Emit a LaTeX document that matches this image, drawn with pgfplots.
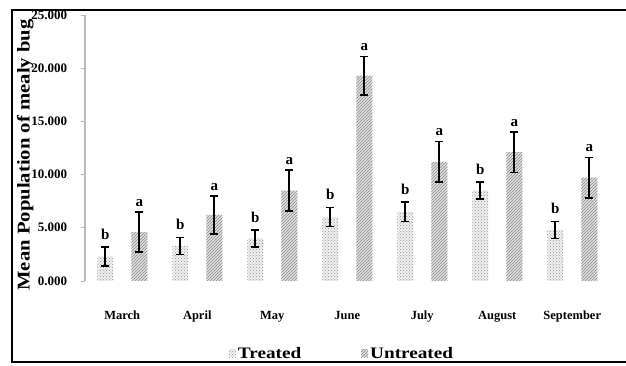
\documentclass[border=0pt]{standalone}
\usepackage{fontspec}
\setmainfont{Liberation Serif}
\usepackage{graphicx}
\usepackage{pgfplots}
\pgfplotsset{compat=1.18}
\usetikzlibrary{patterns}
\pgfplotstableread{
x treated terr untreated uerr
0 2.3 0.9 4.6 1.9
1 3.3 0.8 6.2 1.8
2 4.0 0.8 8.5 1.9
3 6.0 0.9 19.3 1.8
4 6.5 0.9 11.2 1.9
5 8.5 0.8 12.1 1.9
6 4.8 0.8 9.7 1.9
}\datatable
\begin{document}
\begin{tikzpicture}[x=1pt,y=1pt]
\path[use as bounding box] (0,0) rectangle (626,365);
\clip (0,0) rectangle (626,365);
\draw[line width=1.2pt] (12,3) rectangle (680,355);
\begin{axis}[
  at={(113,79)}, anchor=south west,
  scale only axis, width=525pt, height=266pt,
  xmin=-0.5, xmax=6.5, ymin=0, ymax=25,
  ybar=18pt, bar width=16pt,
  axis y line*=left, axis x line*=bottom,
  x axis line style={draw=none},
  y axis line style={gray!55, line width=2.5pt},
  xtick={0,...,6},
  xticklabels={March,April,May,June,July,August,September},
  xtick style={draw=none},
  minor xtick={-0.5,0.5,...,6.5},
  minor x tick style={gray!60, line width=0.8pt},
  minor tick length=4pt,
  ytick={0,5,...,25},
  ytick style={gray!60, line width=0.8pt},
  major tick length=4pt,
  tick align=outside,
  xticklabel style={font=\bfseries\fontsize{12.5}{13}\selectfont, yshift=-24pt, text height=1.6ex, text depth=0.5ex},
  yticklabel style={font=\bfseries\fontsize{13}{14}\selectfont, xshift=-10pt},
  yticklabel={\pgfmathprintnumber[fixed,fixed zerofill,precision=3,assume math mode=true]{\tick}},
  ylabel={\scalebox{1.15}[1]{Mean Population of mealy bug}},
  ylabel style={font=\bfseries\fontsize{18}{19}\selectfont, yshift=-9pt, xshift=-7pt},
  legend style={at={(0.49,-0.272)}, anchor=center, draw=none, fill=none,
    legend columns=2, font=\bfseries\fontsize{16}{17}\selectfont,
    /tikz/every even column/.append style={column sep=58pt}},
  legend image code/.code={\draw[#1, draw=none] (0pt,-4pt) rectangle (7pt,4pt);},
  error bars/y dir=both, error bars/y explicit,
  error bars/error bar style={black, line width=1.6pt},
  error bars/error mark options={rotate=90, mark size=4pt, line width=1.6pt, black},
]
\addplot[draw=none, fill=gray!12, postaction={pattern=crosshatch dots, pattern color=gray!85}]
  table[x=x, y=treated, y error=terr] {\datatable};
\addplot[draw=none, fill=gray!25, postaction={pattern=north east lines, pattern color=gray!90}]
  table[x=x, y=untreated, y error=uerr] {\datatable};
\legend{\scalebox{1.2}[1]{Treated}, \scalebox{1.2}[1]{Untreated}}
\foreach \i/\t/\u in {0/3.2/6.5, 1/4.1/8.0, 2/4.8/10.4, 3/6.9/21.1, 4/7.4/13.1, 5/9.3/14.0, 6/5.6/11.6} {
  \edef\tmp{\noexpand\node[font=\noexpand\bfseries\noexpand\fontsize{15}{16}\noexpand\selectfont, anchor=south, xshift=-17pt, yshift=4pt] at (axis cs:\i,\t) {b};
  \noexpand\node[font=\noexpand\bfseries\noexpand\fontsize{15}{16}\noexpand\selectfont, anchor=south, xshift=17pt, yshift=2pt] at (axis cs:\i,\u) {a};}
  \tmp
}
\end{axis}
\end{tikzpicture}
\end{document}
